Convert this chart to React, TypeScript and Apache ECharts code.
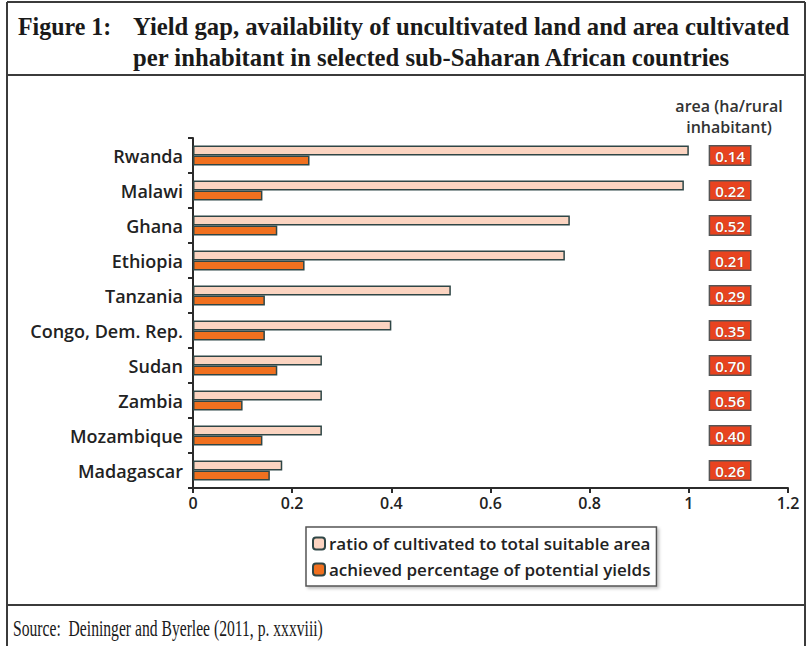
import React, { useEffect, useRef } from "react";
import * as echarts from "echarts";

const countries = [
  "Rwanda",
  "Malawi",
  "Ghana",
  "Ethiopia",
  "Tanzania",
  "Congo, Dem. Rep.",
  "Sudan",
  "Zambia",
  "Mozambique",
  "Madagascar",
];
const ratioCultivated = [1.0, 0.99, 0.76, 0.75, 0.52, 0.4, 0.26, 0.26, 0.26, 0.18];
const achievedYield = [0.235, 0.14, 0.17, 0.225, 0.145, 0.145, 0.17, 0.1, 0.14, 0.155];
const areaPerInhabitant = ["0.14", "0.22", "0.52", "0.21", "0.29", "0.35", "0.70", "0.56", "0.40", "0.26"];

const seriesNames = [
  "ratio of cultivated to total suitable area",
  "achieved percentage of potential yields",
];

const SANS = "'Open Sans', Lato, sans-serif";
const SERIF = "'Liberation Serif', 'Times New Roman', serif";
const FRAME = "#3b3b3b";
const AXIS = "#2b2b2b";
const OUTLINE = "#2f4646";

export default function App() {
  const ref = useRef<HTMLDivElement>(null);
  useEffect(() => {
    document.body.style.margin = "0";
    if (!ref.current) return;
    const chart = echarts.init(ref.current, null, { renderer: "svg" });
    chart.setOption({
      animation: false,
      backgroundColor: "#ffffff",
      grid: { left: 193, right: 19, top: 138, bottom: 158, containLabel: false },
      xAxis: {
        type: "value",
        min: 0,
        max: 1.2,
        interval: 0.2,
        splitLine: { show: false },
        axisLine: { show: true, lineStyle: { color: AXIS, width: 2 } },
        axisTick: { show: true, length: 5, lineStyle: { color: AXIS, width: 2 } },
        axisLabel: { color: "#222", fontFamily: SANS, fontSize: 16, fontWeight: 600, margin: 7 },
      },
      yAxis: [
        {
          type: "category",
          inverse: true,
          data: countries,
          axisLine: { show: true, lineStyle: { color: AXIS, width: 2 } },
          axisTick: { show: true, length: 5, lineStyle: { color: AXIS, width: 2 } },
          axisLabel: { color: "#222", fontFamily: SANS, fontSize: 18, fontWeight: 600, margin: 10 },
        },
        {
          type: "category",
          inverse: true,
          position: "right",
          data: areaPerInhabitant,
          axisLine: { show: false },
          axisTick: { show: false },
          axisLabel: {
            inside: true,
            margin: 38,
            color: "#ffffff",
            fontFamily: SANS,
            fontSize: 15,
            fontWeight: 600,
            backgroundColor: "#e8431f",
            borderColor: "#555",
            borderWidth: 1.5,
            padding: [2, 5, 1, 5],
            textBorderColor: "#8a3a2a",
            textBorderWidth: 0.6,
          },
        },
      ],
      legend: {
        orient: "vertical",
        left: 306,
        top: 527,
        padding: [8, 6, 8, 6],
        itemWidth: 12,
        itemHeight: 12,
        itemGap: 9,
        borderColor: "#555",
        borderWidth: 1.5,
        backgroundColor: "#fff",
        shadowColor: "rgba(0,0,0,0.25)",
        shadowBlur: 3,
        shadowOffsetX: 2,
        shadowOffsetY: 2,
        textStyle: { color: "#222", fontFamily: SANS, fontSize: 17, fontWeight: 600, padding: [0, 0, 0, -1] },
        data: seriesNames,
      },
      series: [
        {
          name: seriesNames[0],
          type: "bar",
          data: ratioCultivated,
          barWidth: 10,
          barGap: "0%",
          itemStyle: { color: "#fbd4c1", borderColor: OUTLINE, borderWidth: 1.5 },
        },
        {
          name: seriesNames[1],
          type: "bar",
          data: achievedYield,
          barWidth: 10,
          barGap: "0%",
          itemStyle: { color: "#f0701f", borderColor: OUTLINE, borderWidth: 1.5 },
        },
      ],
      graphic: [
        { type: "line", shape: { x1: 7, y1: 2, x2: 7, y2: 646 }, style: { stroke: FRAME, lineWidth: 2 } },
        { type: "line", shape: { x1: 805, y1: 2, x2: 805, y2: 646 }, style: { stroke: FRAME, lineWidth: 2 } },
        { type: "line", shape: { x1: 7, y1: 2, x2: 805, y2: 2 }, style: { stroke: FRAME, lineWidth: 2 } },
        { type: "line", shape: { x1: 7, y1: 75, x2: 805, y2: 75 }, style: { stroke: FRAME, lineWidth: 2 } },
        { type: "line", shape: { x1: 7, y1: 605, x2: 805, y2: 605 }, style: { stroke: FRAME, lineWidth: 2 } },
        {
          type: "text",
          x: 18,
          y: 26,
          scaleX: 0.92,
          style: { text: "Figure 1:", font: `bold 26px ${SERIF}`, fill: "#1a1a1a", verticalAlign: "middle" },
        },
        {
          type: "text",
          x: 133,
          y: 26,
          scaleX: 0.95,
          style: {
            text: "Yield gap, availability of uncultivated land and area cultivated",
            font: `bold 26px ${SERIF}`,
            fill: "#1a1a1a",
            verticalAlign: "middle",
          },
        },
        {
          type: "text",
          x: 133,
          y: 57,
          scaleX: 0.95,
          style: {
            text: "per inhabitant in selected sub-Saharan African countries",
            font: `bold 26px ${SERIF}`,
            fill: "#1a1a1a",
            verticalAlign: "middle",
          },
        },
        {
          type: "text",
          x: 729,
          y: 116,
          style: {
            text: "area (ha/rural\ninhabitant)",
            font: `600 16px ${SANS}`,
            fill: "#333",
            align: "center",
            verticalAlign: "middle",
            lineHeight: 21,
          },
        },
        {
          type: "text",
          x: 13,
          y: 628,
          scaleX: 0.68,
          style: {
            text: "Source:  Deininger and Byerlee (2011, p. xxxviii)",
            font: `23px ${SERIF}`,
            fill: "#1a1a1a",
            verticalAlign: "middle",
          },
        },
      ],
    });
    return () => chart.dispose();
  }, []);
  return <div ref={ref} style={{ width: 807, height: 646 }} />;
}
